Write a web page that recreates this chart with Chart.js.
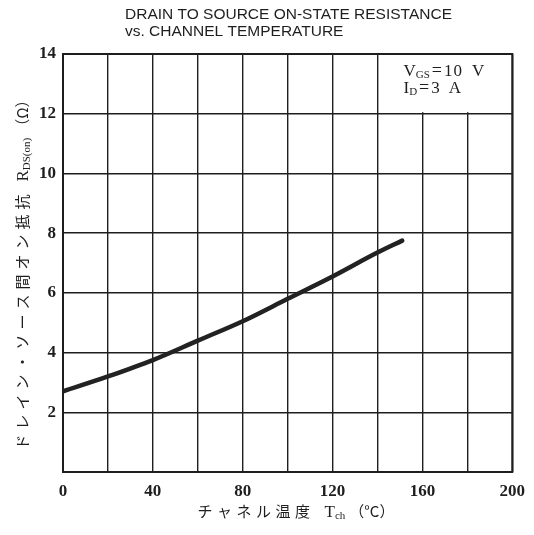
<!DOCTYPE html>
<html>
<head>
<meta charset="utf-8">
<script src="https://cdn.jsdelivr.net/npm/chart.js@4/dist/chart.umd.min.js"></script>
<style>
  html,body{margin:0;padding:0;background:#fff;}
  #wrap{width:534px;height:535px;position:relative;}
</style>
</head>
<body>
<div id="wrap"><canvas id="c"></canvas></div>
<script>
// values
const temps = [0, 20, 40, 60, 80, 100, 120, 140, 151];
const rdsOn = [2.7, 3.2, 3.75, 4.4, 5.05, 5.8, 6.55, 7.35, 7.75];
const xLabels = [0, 40, 80, 120, 160, 200];
const yLabels = [2, 4, 6, 8, 10, 12, 14];
const titleLines = ['DRAIN TO SOURCE ON-STATE RESISTANCE', 'vs. CHANNEL TEMPERATURE'];

const ink = '#1e1e1e';
const serif = '"Liberation Serif", "DejaVu Serif", serif';
const jp = '"Noto Sans CJK JP", sans-serif';

function drawRich(ctx, segs, x, y, align){
  let w = 0;
  segs.forEach(s=>{
    ctx.font = s.f; ctx.letterSpacing = s.ls || '0px';
    s.w = ctx.measureText(s.t).width;
    w += s.w + (s.g || 0);
  });
  let cx = align === 'center' ? x - w/2 : x;
  segs.forEach(s=>{
    ctx.font = s.f; ctx.letterSpacing = s.ls || '0px';
    ctx.fillText(s.t, cx, y + (s.dy || 0));
    cx += s.w + (s.g || 0);
  });
  ctx.letterSpacing = '0px';
}

const paper = {
  id:'paper',
  beforeDatasetsDraw(chart){
    const {ctx, scales:{x, y}} = chart;
    ctx.save();
    // white box for the test conditions
    ctx.fillStyle = '#fff';
    const l = x.getPixelForValue(140) + 1.5, r = x.getPixelForValue(200) - 1;
    const t = y.getPixelForValue(14) + 1, b = y.getPixelForValue(12) - 1.5;
    ctx.fillRect(l, t, r - l, b - t);
    // frame
    ctx.strokeStyle = ink; ctx.lineWidth = 2;
    const a = chart.chartArea;
    ctx.strokeRect(a.left, a.top, a.right - a.left, a.bottom - a.top);
    ctx.restore();
  },
  afterDraw(chart){
    const {ctx, scales:{x, y}} = chart;
    ctx.save();
    ctx.fillStyle = ink;
    ctx.textBaseline = 'alphabetic';
    ctx.textAlign = 'left';

    ctx.font = '15.5px "Liberation Sans", Arial, sans-serif';
    ctx.fillText(titleLines[0], 125, 19);
    ctx.fillText(titleLines[1], 125, 36);

    // test conditions
    const bx = x.getPixelForValue(140) + 26;
    drawRich(ctx, [
      {t:'V', f:'17px ' + serif},
      {t:'GS', f:'11px ' + serif, dy:2, g:2},
      {t:'=', f:'18px ' + serif, g:2},
      {t:'10', f:'17px ' + serif, ls:'1px', g:9},
      {t:'V', f:'17px ' + serif}
    ], bx, 76, 'left');
    drawRich(ctx, [
      {t:'I', f:'17px ' + serif},
      {t:'D', f:'11px ' + serif, dy:2, g:2},
      {t:'=', f:'18px ' + serif, g:2},
      {t:'3', f:'17px ' + serif, g:9},
      {t:'A', f:'17px ' + serif}
    ], bx, 93, 'left');

    // x axis title
    drawRich(ctx, [
      {t:'チャネル温度', f:'15px ' + jp, ls:'4.5px', g:10},
      {t:'T', f:'17px ' + serif},
      {t:'ch', f:'11px ' + serif, dy:2, g:4},
      {t:'（°C）', f:'15px ' + jp}
    ], 296, 517, 'center');

    // y axis title, reading bottom to top
    ctx.translate(28, 271);
    ctx.rotate(-Math.PI/2);
    drawRich(ctx, [
      {t:'ドレイン・ソース間オン抵抗', f:'15px ' + jp, ls:'5px', g:8},
      {t:'R', f:'17px ' + serif},
      {t:'DS(on)', f:'11px ' + serif, dy:2, g:4},
      {t:'（Ω）', f:'15px ' + jp}
    ], 0, 0, 'center');
    ctx.restore();
  }
};

new Chart(document.getElementById('c'), {
  type:'line',
  data:{
    datasets:[{
      data: temps.map((t,i)=>({x:t, y:rdsOn[i]})),
      borderColor:'#222', borderWidth:4.5, pointRadius:0,
      cubicInterpolationMode:'monotone', borderCapStyle:'round', fill:false
    }]
  },
  options:{
    responsive:true, maintainAspectRatio:false, animation:false,
    layout:{padding:{left:0, right:21, top:54, bottom:0}},
    plugins:{legend:{display:false}, tooltip:{enabled:false}, title:{display:false}},
    scales:{
      x:{
        type:'linear', min:0, max:200,
        afterFit: s=>{ s.height = 63; },
        grid:{color:ink, lineWidth:1.4, drawTicks:false},
        border:{display:false},
        ticks:{stepSize:20, padding:9, color:ink, maxRotation:0,
          font:{family:serif, size:17, weight:'bold'},
          callback: v=> xLabels.includes(v) ? v : ''}
      },
      y:{
        type:'linear', min:0, max:14,
        afterFit: s=>{ s.width = 63; },
        grid:{color:ink, lineWidth:1.4, drawTicks:false},
        border:{display:false},
        ticks:{stepSize:2, padding:7, color:ink,
          font:{family:serif, size:17, weight:'bold'},
          callback: v=> yLabels.includes(v) ? v : ''}
      }
    }
  },
  plugins:[paper]
});
</script>
</body>
</html>
